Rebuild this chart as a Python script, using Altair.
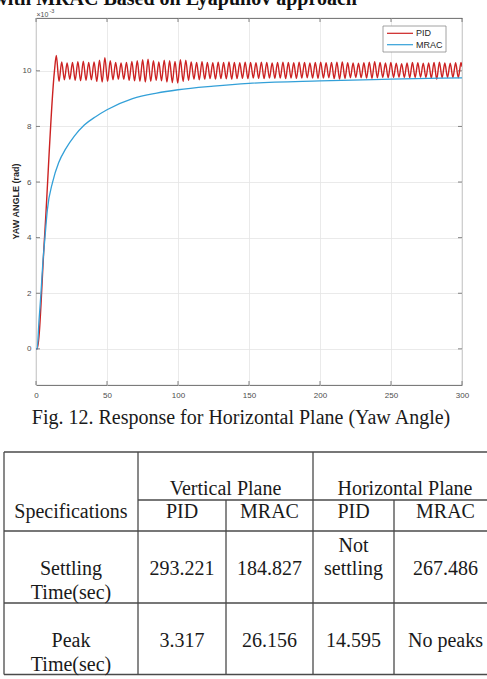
import altair as alt
import pandas as pd

# ---------------- data ----------------
x_ticks = [0, 50, 100, 150, 200, 250, 300]
y_ticks = [0, 2, 4, 6, 8, 10]
series_names = ["PID", "MRAC"]
series_colors = ["#cc2222", "#33a0d8"]

pid_t = [0, 0.8, 6.0, 13.0,
         14.3, 16.2, 18.1, 20.0, 21.9, 23.8, 25.7, 27.6, 29.5, 31.4,
         33.3, 35.2, 37.1, 39.0, 40.9, 42.8, 44.7, 46.6, 48.5, 50.4,
         52.3, 54.2, 56.1, 58.0, 59.9, 61.8, 63.7, 65.6, 67.5, 69.4,
         71.3, 73.2, 75.1, 77.0, 78.9, 80.8, 82.7, 84.6, 86.5, 88.4,
         90.3, 92.2, 94.1, 96.0, 97.9, 99.8, 101.7, 103.6, 105.5, 107.4,
         109.3, 111.2, 113.1, 115.0, 116.9, 118.8, 120.7, 122.6, 124.5, 126.4,
         128.3, 130.2, 132.1, 134.0, 135.9, 137.8, 139.7, 141.6, 143.5, 145.4,
         147.3, 149.2, 151.1, 153.0, 154.9, 156.8, 158.7, 160.6, 162.5, 164.4,
         166.3, 168.2, 170.1, 172.0, 173.9, 175.8, 177.7, 179.6, 181.5, 183.4,
         185.3, 187.2, 189.1, 191.0, 192.9, 194.8, 196.7, 198.6, 200.5, 202.4,
         204.3, 206.2, 208.1, 210.0, 211.9, 213.8, 215.7, 217.6, 219.5, 221.4,
         223.3, 225.2, 227.1, 229.0, 230.9, 232.8, 234.7, 236.6, 238.5, 240.4,
         242.3, 244.2, 246.1, 248.0, 249.9, 251.8, 253.7, 255.6, 257.5, 259.4,
         261.3, 263.2, 265.1, 267.0, 268.9, 270.8, 272.7, 274.6, 276.5, 278.4,
         280.3, 282.2, 284.1, 286.0, 287.9, 289.8, 291.7, 293.6, 295.5, 297.4,
         299.3, 300.0]
pid_v = [0, 0, 4.0, 10.0,
         10.55,
         9.62, 10.32, 9.68, 10.28, 9.70, 10.30, 9.66, 10.33, 9.64, 10.35,
         9.66, 10.30, 9.68, 10.32, 9.62, 10.38, 9.60, 10.47, 9.62, 10.36,
         9.68, 10.30, 9.70, 10.28, 9.70, 10.30, 9.66, 10.34, 9.64, 10.36,
         9.62, 10.40, 9.60, 10.42, 9.62, 10.36, 9.66, 10.32, 9.64, 10.38,
         9.60, 10.36, 9.58, 10.34, 9.56, 10.40, 9.62, 10.38, 9.66, 10.32,
         9.70, 10.30, 9.68, 10.33, 9.70, 10.30, 9.72, 10.29, 9.70, 10.31,
         9.72, 10.30, 9.71, 10.32, 9.70, 10.30, 9.72, 10.29, 9.73, 10.31,
         9.72, 10.30, 9.74, 10.29, 9.73, 10.31, 9.72, 10.30, 9.74, 10.28,
         9.73, 10.30, 9.74, 10.31, 9.72, 10.30, 9.74, 10.29, 9.73, 10.31,
         9.74, 10.30, 9.75, 10.28, 9.74, 10.30, 9.73, 10.31, 9.74, 10.29,
         9.75, 10.30, 9.72, 10.31, 9.70, 10.32, 9.73, 10.29, 9.75, 10.28,
         9.76, 10.27, 9.75, 10.29, 9.74, 10.31, 9.73, 10.33, 9.75, 10.30,
         9.76, 10.28, 9.75, 10.30, 9.76, 10.27, 9.77, 10.26, 9.76, 10.28,
         9.75, 10.30, 9.76, 10.29, 9.77, 10.27, 9.76, 10.28, 9.74, 10.30,
         9.70, 10.31, 9.75, 10.28, 9.76, 10.27, 9.76, 10.29, 9.75, 10.30,
         10.15]

mrac_t = [0, 0.8, 2.1, 3.5, 4.7, 6.3, 8.0, 11.7, 16.0, 21.0, 27.0, 34.0, 42.0,
          50.0, 68.0, 85.0, 100.0, 125.0, 150.0, 200.0, 250.0, 300.0]
mrac_v = [0, 0, 1.0, 2.0, 3.0, 4.0, 5.0, 6.0, 6.7, 7.2, 7.65, 8.05, 8.35,
          8.6, 9.0, 9.2, 9.32, 9.45, 9.55, 9.64, 9.70, 9.75]

exponent_base = "×10"
exponent_power = "-3"
y_title = "YAW ANGLE (rad)"
page_heading = "with MRAC Based on Lyapunov approach"
caption = "Fig. 12. Response for Horizontal Plane (Yaw Angle)"

table_corner = "Specifications"
table_groups = ["Vertical Plane", "Horizontal Plane"]
table_sub = ["PID", "MRAC", "PID", "MRAC"]
row_labels = [["Settling", "Time(sec)"], ["Peak", "Time(sec)"]]
row_values = [
    [["293.221"], ["184.827"], ["Not", "settling"], ["267.486"]],
    [["3.317"], ["26.156"], ["14.595"], ["No peaks"]],
]

# ---------------- layout (page pixels) ----------------
W, H = 426, 367
PAD = {"left": 36, "top": 18, "right": 25, "bottom": 294}
PAGE_W, PAGE_H = 487, 679
SERIF = "Liberation Serif"
SANS = "Liberation Sans"

col_edges = [4, 138, 226, 313, 394, 497]
hline_specs = [(452, 0, 5), (500, 1, 5), (531, 0, 5), (603, 0, 5), (674.5, 0, 5)]
vline_specs = [(0, 452, 674.5), (1, 452, 674.5), (2, 500, 674.5),
               (3, 452, 674.5), (4, 500, 674.5)]
group_base = 495
sub_base = 518
row_base = [575, 647]
line_h = 23.5

PX = alt.Scale(domain=[0, PAGE_W], range=[-PAD["left"], PAGE_W - PAD["left"]],
               nice=False, zero=False)
PY = alt.Scale(domain=[0, PAGE_H], range=[-PAD["top"], PAGE_H - PAD["top"]],
               nice=False, zero=False)


def page_xy(x2=False, y2=False):
    enc = dict(x=alt.X("px:Q", scale=PX, axis=None),
               y=alt.Y("py:Q", scale=PY, axis=None))
    if x2:
        enc["x2"] = alt.X2("px2:Q")
    if y2:
        enc["y2"] = alt.Y2("py2:Q")
    return enc


# ---------------- plot ----------------
X = alt.Scale(domain=[0, 300], nice=False, zero=False)
Y = alt.Scale(domain=[-1.3, 11.9], nice=False, zero=False)
C = alt.Scale(domain=series_names, range=series_colors)

x_axis = alt.Axis(values=x_ticks, grid=True, gridColor="#e4e4e4", gridWidth=0.8,
                  ticks=False, domain=False, labelFontSize=8, labelFont=SANS,
                  labelColor="#4d4d4d", labelPadding=6, title=None, labelFlush=False)
y_axis = alt.Axis(values=y_ticks, grid=True, gridColor="#e4e4e4", gridWidth=0.8,
                  ticks=False, domain=False, labelFontSize=8, labelFont=SANS,
                  labelColor="#4d4d4d", labelPadding=5, title=None)

pid_df = pd.DataFrame({"t": pid_t, "v": pid_v, "series": "PID"})
mrac_df = pd.DataFrame({"t": mrac_t, "v": mrac_v, "series": "MRAC"})


def series_line(df, width):
    return alt.Chart(df).mark_line(strokeWidth=width, interpolate="monotone", clip=True).encode(
        x=alt.X("t:Q", scale=X, axis=x_axis),
        y=alt.Y("v:Q", scale=Y, axis=y_axis),
        color=alt.Color("series:N", scale=C, legend=None),
    )


xt_df = pd.DataFrame({"v": x_ticks})
yt_df = pd.DataFrame({"v": y_ticks})
tick_style = dict(color="#666666", strokeWidth=0.8)
x_ticks_bottom = alt.Chart(xt_df).mark_rule(**tick_style).encode(
    x=alt.X("v:Q", scale=X, axis=x_axis), y=alt.value(H), y2=alt.value(H - 4))
x_ticks_top = alt.Chart(xt_df).mark_rule(**tick_style).encode(
    x=alt.X("v:Q", scale=X, axis=x_axis), y=alt.value(0), y2=alt.value(4))
y_ticks_left = alt.Chart(yt_df).mark_rule(**tick_style).encode(
    y=alt.Y("v:Q", scale=Y, axis=y_axis), x=alt.value(0), x2=alt.value(4))
y_ticks_right = alt.Chart(yt_df).mark_rule(**tick_style).encode(
    y=alt.Y("v:Q", scale=Y, axis=y_axis), x=alt.value(W - 4), x2=alt.value(W))

plot = alt.layer(x_ticks_bottom, x_ticks_top, y_ticks_left, y_ticks_right,
                 series_line(pid_df, 1.4), series_line(mrac_df, 1.3))

# ---------------- page elements ----------------
heading = alt.Chart(pd.DataFrame({"px": [357], "py": [4.5], "txt": [page_heading]})).mark_text(
    font=SERIF, fontSize=20, fontWeight="bold", align="right", baseline="alphabetic",
    color="#111111").encode(text="txt:N", **page_xy())

cap = alt.Chart(pd.DataFrame({"px": [241], "py": [424], "txt": [caption]})).mark_text(
    font=SERIF, fontSize=20, align="center", baseline="alphabetic",
    color="#1a1a1a").encode(text="txt:N", **page_xy())

exp_df = pd.DataFrame({"px": [36.5, 49.5], "py": [16.5, 12.5],
                       "txt": [exponent_base, exponent_power], "fs": [7, 5.5]})
exp_txt = alt.Chart(exp_df).mark_text(font=SANS, align="left", baseline="alphabetic",
                                      color="#4d4d4d").encode(
    text="txt:N", size=alt.Size("fs:Q", scale=None, legend=None), **page_xy())

ytitle = alt.Chart(pd.DataFrame({"px": [16], "py": [201.5], "txt": [y_title]})).mark_text(
    font=SANS, fontSize=9, fontWeight="bold", angle=270, align="center", baseline="middle",
    color="#262626").encode(text="txt:N", **page_xy())

# legend
leg_box = alt.Chart(pd.DataFrame({"px": [383], "px2": [446], "py": [26], "py2": [52]})).mark_rect(
    fill="white", stroke="#8a8a8a", strokeWidth=0.8).encode(**page_xy(x2=True, y2=True))
leg_rows = [33.3, 44.7]
leg_df = pd.DataFrame({"series": series_names, "px": [387, 387], "px2": [413, 413],
                       "py": leg_rows, "lx": [416, 416]})
leg_lines = alt.Chart(leg_df).mark_rule(strokeWidth=1.2).encode(
    x=alt.X("px:Q", scale=PX, axis=None), x2="px2:Q",
    y=alt.Y("py:Q", scale=PY, axis=None),
    color=alt.Color("series:N", scale=C, legend=None))
leg_labels = alt.Chart(leg_df).mark_text(font=SANS, fontSize=9, align="left",
                                         baseline="middle", color="#262626").encode(
    x=alt.X("lx:Q", scale=PX, axis=None), y=alt.Y("py:Q", scale=PY, axis=None),
    text="series:N")

# table
hl_df = pd.DataFrame({"py": [s[0] for s in hline_specs],
                      "px": [col_edges[s[1]] for s in hline_specs],
                      "px2": [col_edges[s[2]] for s in hline_specs]})
vl_df = pd.DataFrame({"px": [col_edges[s[0]] for s in vline_specs],
                      "py": [s[1] for s in vline_specs],
                      "py2": [s[2] for s in vline_specs]})
rule_style = dict(color="#4a4a4a", strokeWidth=1.3)
hlines = alt.Chart(hl_df).mark_rule(**rule_style).encode(
    x=alt.X("px:Q", scale=PX, axis=None), x2="px2:Q", y=alt.Y("py:Q", scale=PY, axis=None))
vlines = alt.Chart(vl_df).mark_rule(**rule_style).encode(
    x=alt.X("px:Q", scale=PX, axis=None), y=alt.Y("py:Q", scale=PY, axis=None), y2="py2:Q")

centers = [(col_edges[i] + col_edges[i + 1]) / 2 for i in range(5)]
cells = []
cells.append((centers[0], sub_base, table_corner))
cells.append(((col_edges[1] + col_edges[3]) / 2, group_base, table_groups[0]))
cells.append(((col_edges[3] + col_edges[5]) / 2, group_base, table_groups[1]))
for j, s in enumerate(table_sub):
    cells.append((centers[j + 1], sub_base, s))
for r, labels in enumerate(row_labels):
    for k, ln in enumerate(labels):
        cells.append((centers[0], row_base[r] + k * line_h, ln))
    for j, lines in enumerate(row_values[r]):
        n = len(lines)
        for k, ln in enumerate(lines):
            cells.append((centers[j + 1], row_base[r] - (n - 1 - k) * line_h, ln))
cell_df = pd.DataFrame(cells, columns=["px", "py", "txt"])
cell_txt = alt.Chart(cell_df).mark_text(font=SERIF, fontSize=20, align="center",
                                        baseline="alphabetic", color="#1a1a1a").encode(
    text="txt:N", **page_xy())

page = alt.layer(heading, cap, exp_txt, ytitle, hlines, vlines, cell_txt,
                 leg_box, leg_lines, leg_labels)

chart = alt.layer(plot, page).resolve_scale(x="independent", y="independent").properties(
    width=W, height=H, padding=PAD, autosize=alt.AutoSizeParams(type="none"),
    background="white",
).configure_view(stroke="#5a5a5a", strokeWidth=0.9)

chart.save("out.html", embed_options={"renderer": "svg", "actions": False})
